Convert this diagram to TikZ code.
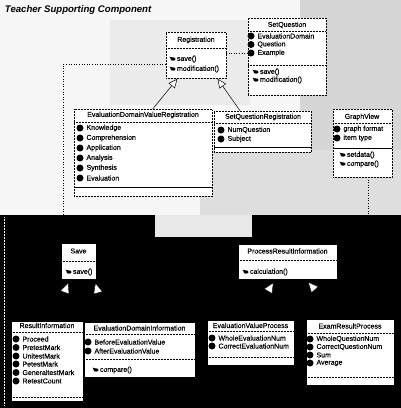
\documentclass[tikz,border=0pt]{standalone}
\usepackage{fontspec}
\setmainfont{Liberation Sans}
\newfontfamily\umlfont[FakeBold=0.35]{Liberation Sans}
\usetikzlibrary{calc,arrows.meta}

% attribute row: icon blob + text
\newcommand\clsattr[4]{%
  \fill (#2,#3) circle[radius=3.5pt];
  \node[itm] (#1) at (#2+6.5,#3) {#4};}
% operation row: small key-like icon + text
\newcommand\clsop[4]{%
  \fill (#2,#3) ellipse[x radius=2.5pt,y radius=1.7pt];
  \fill (#2-3.6,#3-2.4) -- (#2-0.2,#3-1.3) -- (#2-1.4,#3+0.7) -- cycle;
  \node[itm] (#1) at (#2+4,#3) {#4};}

\begin{document}
\begin{tikzpicture}[x=1pt,y=-1pt,
  every node/.style={inner sep=0pt,outer sep=0pt},
  box/.style={draw=black,densely dotted,line width=0.5pt,fill=white,anchor=north west},
  lbox/.style={draw=black,line width=0.4pt,fill=white,anchor=north west},
  ttl/.style={font=\umlfont\fontsize{7}{7}\selectfont,anchor=center},
  itm/.style={font=\umlfont\fontsize{7}{7}\selectfont,anchor=west},
  sep/.style={densely dotted,line width=0.5pt},
  gen/.style={line width=0.5pt,-{Triangle[open,fill=white,length=9pt,width=8pt]}},
  lgen/.style={line width=0.4pt,-{Triangle[open,fill=white,length=10.5pt,width=9.5pt]}},
  dep/.style={dotted,line width=0.6pt},
]
\useasboundingbox (0,0) rectangle (401,408);

% background: dithered upper area, black lower area
\fill[gray!6] (0,0) rectangle (401,215);
\fill[gray!16] (110,20) rectangle (250,105);
\fill[gray!32] (300,0) rectangle (401,215);
\fill[gray!26] (200,150) rectangle (401,215);
\fill[black] (0,215) rectangle (401,408);
\fill[gray!18] (155,215) rectangle (252,237);
\draw[white,densely dotted,line width=0.5pt] (4,217) -- (4,406);

\node[font=\bfseries\itshape\fontsize{9.6}{10}\selectfont,anchor=west] (title) at (5,10) {Teacher Supporting Component};

% ---------- upper package ----------
\node[box,minimum width=60pt,minimum height=46pt] (reg) at (166,32) {};
\node[ttl] (regT) at (196,40) {Registration};
\draw[sep] (166,48) -- (226,48);
\clsop{regO1}{173}{59}{save()}
\clsop{regO2}{173}{69}{modification()}

\node[box,minimum width=78pt,minimum height=77pt] (sq) at (248,18) {};
\node[ttl] (sqT) at (287,25) {SetQuestion};
\draw[sep] (248,31) -- (326,31);
\clsattr{sqA1}{251}{36}{EvaluationDomain}
\clsattr{sqA2}{251}{44.5}{Question}
\clsattr{sqA3}{251}{53}{Example}
\draw[sep] (248,65) -- (326,65);
\clsop{sqO1}{256}{72}{save()}
\clsop{sqO2}{256}{80}{modification()}

\node[box,minimum width=138pt,minimum height=87pt] (edvr) at (74,109) {};
\node[ttl] (edvrT) at (143,115) {EvaluationDomainValueRegistration};
\draw[sep] (74,122) -- (212,122);
\clsattr{edvrA1}{80}{128}{Knowledge}
\clsattr{edvrA2}{80}{138}{Comprehension}
\clsattr{edvrA3}{80}{148}{Application}
\clsattr{edvrA4}{80}{158}{Analysis}
\clsattr{edvrA5}{80}{168}{Synthesis}
\clsattr{edvrA6}{80}{178}{Evaluation}
\draw[line width=0.4pt] (74,187) -- (212,187);

\node[box,minimum width=97pt,minimum height=41pt] (sqr) at (214,111) {};
\node[ttl] (sqrT) at (263,117) {SetQuestionRegistration};
\draw[sep] (214,123) -- (311,123);
\clsattr{sqrA1}{221}{130}{NumQuestion}
\clsattr{sqrA2}{221}{139}{Subject}
\draw[line width=0.4pt] (214,147) -- (311,147);

\node[box,minimum width=59pt,minimum height=68pt] (gv) at (333,109) {};
\node[ttl] (gvT) at (362,117) {GraphView};
\draw[sep] (333,123) -- (392,123);
\clsattr{gvA1}{337}{129}{graph format}
\clsattr{gvA2}{337}{138}{item type}
\draw[line width=0.4pt] (333,148) -- (392,148);
\clsop{gvO1}{343}{155}{setdata()}
\clsop{gvO2}{343}{164}{compare()}

% ---------- lower package ----------
\node[lbox,minimum width=35pt,minimum height=36pt] (save) at (61,243) {};
\node[ttl] (saveT) at (78.5,251) {Save};
\draw[sep] (61,261) -- (96,261);
\clsop{saveO1}{69}{272}{save()}

\node[lbox,minimum width=99pt,minimum height=35pt] (pri) at (238,244) {};
\node[ttl] (priT) at (287.5,251) {ProcessResultInformation};
\draw[sep] (238,260) -- (337,260);
\clsop{priO1}{246}{272}{calculation()}

\node[lbox,minimum width=72pt,minimum height=80pt] (ri) at (11,321) {};
\node[ttl] (riT) at (47,325.5) {ResultInformation};
\draw[sep] (11,332) -- (83,332);
\clsattr{riA1}{16}{339}{Proceed}
\clsattr{riA2}{16}{347.5}{PretestMark}
\clsattr{riA3}{16}{356}{UnitestMark}
\clsattr{riA4}{16}{364}{PetestMark}
\clsattr{riA5}{16}{372.5}{GeneraltestMark}
\clsattr{riA6}{16}{381}{RetestCount}
\draw[sep] (11,397) -- (83,397);

\node[lbox,minimum width=111pt,minimum height=55pt] (edi) at (84,322) {};
\node[ttl] (ediT) at (139.5,328) {EvaluationDomainInformation};
\draw[sep] (84,334) -- (195,334);
\clsattr{ediA1}{88}{342}{BeforeEvaluationValue}
\clsattr{ediA2}{88}{351}{AfterEvaluationValue}
\draw[sep] (84,359) -- (195,359);
\clsop{ediO1}{96}{370}{compare()}

\node[lbox,minimum width=87pt,minimum height=45pt] (evp) at (207,320) {};
\node[ttl] (evpT) at (250.5,325.5) {EvaluationValueProcess};
\draw[sep] (207,331) -- (294,331);
\clsattr{evpA1}{212}{338}{WholeEvaluationNum}
\clsattr{evpA2}{212}{346}{CorrectEvaluationNum}
\draw[sep] (207,357) -- (294,357);

\node[lbox,minimum width=88pt,minimum height=66pt] (erp) at (306,319) {};
\node[ttl] (erpT) at (350,326) {ExamResultProcess};
\draw[sep] (306,333) -- (394,333);
\clsattr{erpA1}{310}{339}{WholeQuestionNum}
\clsattr{erpA2}{310}{347}{CorrectQuestionNum}
\clsattr{erpA3}{310}{355}{Sum}
\clsattr{erpA4}{310}{363}{Average}
\draw[sep] (306,377) -- (394,377);

% ---------- connectors ----------
\draw[gen,shorten >=1pt] ($(edvr.north west)!0.57!(edvr.north east)$) -- ($(reg.south west)!0.2!(reg.south east)$);
\draw[gen,shorten >=1pt] ($(sqr.north west)!0.27!(sqr.north east)$) -- ($(reg.south west)!0.85!(reg.south east)$);
\draw[dep] ($(reg.north east)+(0,21)$) -- ($(sq.north west)+(0,35)$);
\draw[dep] ($(save.north west)+(2,0)$) |- ($(reg.north west)+(0,32)$);
\coordinate (gvb) at ($(gv.south west)!0.59!(gv.south east)$);
\draw[dep] (gvb) -- (gvb |- erp.north);

\draw[lgen,shorten >=4pt] ($(ri.north west)!0.6!(ri.north east)$) -- ($(save.south west)!0.25!(save.south east)$);
\draw[lgen,shorten >=4pt] ($(edi.north west)!0.2!(edi.north east)$) -- ($(save.south west)!0.95!(save.south east)$);
\draw[lgen,shorten >=4pt] ($(evp.north west)!0.5!(evp.north east)$) -- ($(pri.south west)!0.38!(pri.south east)$);
\draw[lgen,shorten >=4pt] ($(erp.north west)!0.4!(erp.north east)$) -- ($(pri.south west)!0.68!(pri.south east)$);
\end{tikzpicture}
\end{document}
